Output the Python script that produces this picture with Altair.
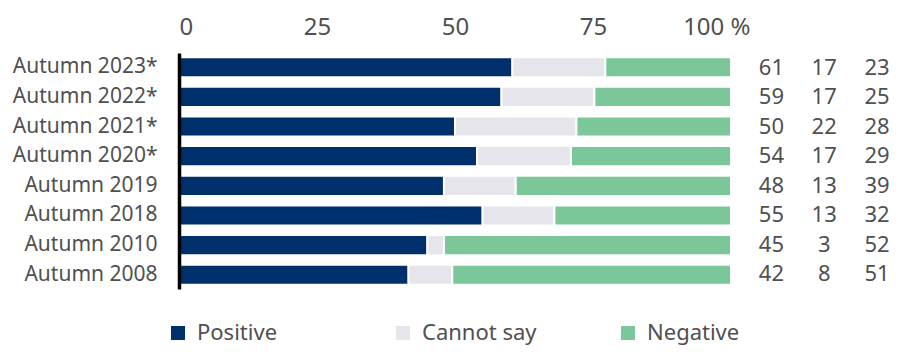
import altair as alt
import pandas as pd

periods = ["Autumn 2023*", "Autumn 2022*", "Autumn 2021*", "Autumn 2020*",
           "Autumn 2019", "Autumn 2018", "Autumn 2010", "Autumn 2008"]
categories = ["Positive", "Cannot say", "Negative"]
positive = [61, 59, 50, 54, 48, 55, 45, 42]
cannot_say = [17, 17, 22, 17, 13, 13, 3, 8]
negative = [23, 25, 28, 29, 39, 32, 52, 51]
colors = ["#00306b", "#e6e5eb", "#7bc799"]
tick_values = [0, 0.25, 0.5, 0.75, 1]

rows = []
for i, p in enumerate(periods):
    for j, (c, vals) in enumerate(zip(categories, [positive, cannot_say, negative])):
        rows.append({"period": p, "category": c, "value": vals[i], "order": j})
df = pd.DataFrame(rows)

FONT = "Noto Sans"
TXT = "#505050"

yscale = alt.Scale(domain=periods, paddingInner=0.32, paddingOuter=0.14)

bars = alt.Chart(df).mark_bar(stroke="white", strokeWidth=2).encode(
    x=alt.X("value:Q", stack="normalize",
            scale=alt.Scale(domain=[0, 1], nice=False),
            axis=alt.Axis(orient="top", values=tick_values, domain=False, ticks=False,
                          grid=False, title=None, labelFontSize=24, labelColor=TXT,
                          labelFont=FONT, labelPadding=14,
                          labelExpr="datum.value == 1 ? '100 %' : format(datum.value * 100, 'd')",
                          labelOffset={"condition": {"test": "datum.value == 1", "value": 19}, "value": 0})),
    y=alt.Y("period:N", sort=periods, scale=yscale,
            axis=alt.Axis(title=None, ticks=False, domain=True, domainColor="black",
                          domainWidth=3.5, labelFontSize=21, labelColor=TXT, labelFont=FONT,
                          labelPadding=22, grid=False, zindex=1)),
    color=alt.Color("category:N", scale=alt.Scale(domain=categories, range=colors),
                    legend=alt.Legend(title=None, orient="none", direction="horizontal",
                                      legendX=-12, legendY=269, symbolType="square",
                                      symbolSize=196, symbolStrokeWidth=0, labelFontSize=22,
                                      labelColor=TXT, labelFont=FONT, labelOffset=8,
                                      gridAlign="all", columnPadding=80, padding=0)),
    order=alt.Order("order:Q"),
).properties(width=552, height=236)

nums = alt.Chart(df).mark_text(fontSize=22, color=TXT, font=FONT, align="center",
                                baseline="middle").encode(
    x=alt.X("category:N", sort=categories,
            scale=alt.Scale(type="point", domain=categories, padding=0.25, align=1), axis=None),
    y=alt.Y("period:N", sort=periods, scale=yscale, axis=None),
    text=alt.Text("value:Q"),
).properties(width=132, height=236)

chart = alt.hconcat(bars, nums, spacing=14, bounds="flush").properties(
    padding={"left": 4, "top": 7, "right": 0, "bottom": 4}
).configure_view(stroke=None)

chart.save("out.html", embed_options={"renderer": "svg", "actions": False})
